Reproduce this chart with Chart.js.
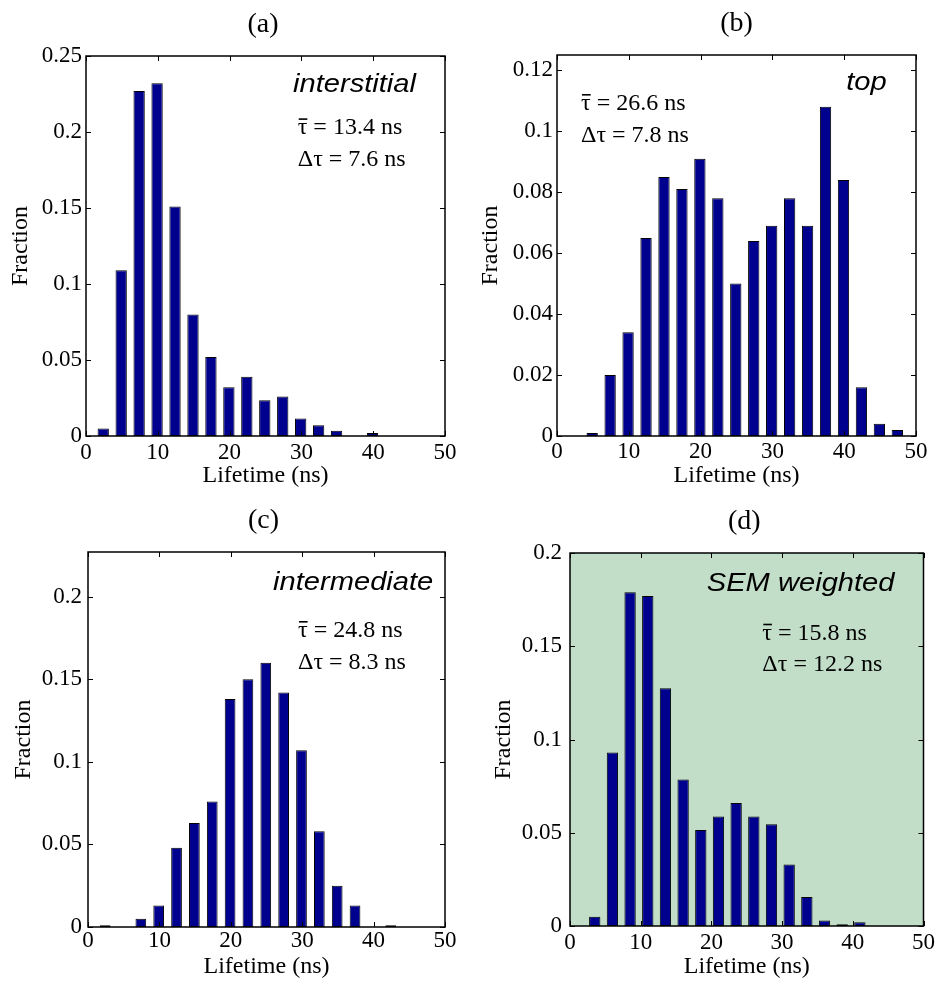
<!DOCTYPE html>
<html>
<head>
<meta charset="utf-8">
<script src="https://cdn.jsdelivr.net/npm/chart.js@4.4.1/dist/chart.umd.min.js"></script>
<style>
html, body { margin: 0; padding: 0; background: #fff; }
#wrap { position: relative; width: 938px; height: 982px; }
canvas { position: absolute; }
</style>
</head>
<body>
<div id="wrap">
  <canvas id="panelA" width="469" height="491" style="left:0;top:0"></canvas>
  <canvas id="panelB" width="469" height="491" style="left:469px;top:0"></canvas>
  <canvas id="panelC" width="469" height="491" style="left:0;top:491px"></canvas>
  <canvas id="panelD" width="469" height="491" style="left:469px;top:491px"></canvas>
</div>
<script>
// ---- data ----
const lifetimeTicks = [0, 10, 20, 30, 40, 50];

// (a) interstitial
const binsA = [2.4, 4.9, 7.4, 9.9, 12.4, 14.9, 17.4, 19.9, 22.4, 24.9, 27.4, 29.9, 32.4, 34.9, 37.4, 39.9];
const fracA = [0.005, 0.109, 0.227, 0.232, 0.151, 0.080, 0.052, 0.032, 0.039, 0.0235, 0.026, 0.0115, 0.007, 0.0035, 0, 0.002];
const yTicksA = [0, 0.05, 0.1, 0.15, 0.2, 0.25];
const statsA = [13.4, 7.6];

// (b) top
const binsB = [4.9, 7.4, 9.9, 12.4, 14.9, 17.4, 19.9, 22.4, 24.9, 27.4, 29.9, 32.4, 34.9, 37.4, 39.9, 42.4, 44.9, 47.4];
const fracB = [0.001, 0.020, 0.034, 0.065, 0.085, 0.081, 0.091, 0.078, 0.050, 0.064, 0.069, 0.078, 0.069, 0.108, 0.084, 0.016, 0.004, 0.002];
const yTicksB = [0, 0.02, 0.04, 0.06, 0.08, 0.1, 0.12];
const statsB = [26.6, 7.8];

// (c) intermediate
const binsC = [2.4, 4.9, 7.4, 9.9, 12.4, 14.9, 17.4, 19.9, 22.4, 24.9, 27.4, 29.9, 32.4, 34.9, 37.4, 39.9, 42.4];
const fracC = [0.001, 0, 0.005, 0.013, 0.048, 0.063, 0.076, 0.138, 0.150, 0.160, 0.142, 0.107, 0.058, 0.025, 0.013, 0, 0.001];
const yTicksC = [0, 0.05, 0.1, 0.15, 0.2];
const statsC = [24.8, 8.3];

// (d) SEM weighted
const binsD = [3.5, 6.0, 8.5, 11.0, 13.5, 16.0, 18.5, 21.0, 23.5, 26.0, 28.5, 31.0, 33.5, 36.0, 38.5, 41.0];
const fracD = [0.005, 0.093, 0.179, 0.177, 0.1275, 0.0785, 0.0515, 0.0587, 0.066, 0.0587, 0.0545, 0.033, 0.0155, 0.003, 0.001, 0.002];
const yTicksD = [0, 0.05, 0.1, 0.15, 0.2];
const statsD = [15.8, 12.2];

const serif = (size) => ({ family: '"Liberation Serif", "Times New Roman", serif', size: size });

// box, inward ticks, panel letter and annotations (matlab look)
function framePlugin(p) {
  return {
    id: 'frame',
    beforeDraw(chart) {
      if (!p.bg) return;
      const { ctx, chartArea: a } = chart;
      ctx.save();
      ctx.fillStyle = p.bg;
      ctx.fillRect(a.left, a.top, a.right - a.left, a.bottom - a.top);
      ctx.restore();
    },
    afterDraw(chart) {
      const { ctx, chartArea: a, scales: { x, y } } = chart;
      ctx.save();
      ctx.strokeStyle = '#000';
      ctx.lineWidth = 1;
      ctx.beginPath();
      x.ticks.forEach(t => {
        const px = Math.round(x.getPixelForValue(t.value)) + 0.5;
        ctx.moveTo(px, a.bottom); ctx.lineTo(px, a.bottom - 5);
        ctx.moveTo(px, a.top); ctx.lineTo(px, a.top + 5);
      });
      y.ticks.forEach(t => {
        const py = Math.round(y.getPixelForValue(t.value)) + 0.5;
        ctx.moveTo(a.left, py); ctx.lineTo(a.left + 5, py);
        ctx.moveTo(a.right, py); ctx.lineTo(a.right - 5, py);
      });
      ctx.stroke();
      ctx.lineWidth = 1.5;
      ctx.strokeRect(a.left, a.top, a.right - a.left, a.bottom - a.top);

      ctx.fillStyle = '#000';
      ctx.textBaseline = 'alphabetic';
      ctx.font = '28px "Liberation Serif"';
      ctx.textAlign = 'center';
      ctx.fillText(p.letter, (a.left + a.right) / 2 + p.letterDx, a.top - 24.5);

      // mean and spread, tau with an overbar
      ctx.textAlign = 'left';
      ctx.font = '24px "Liberation Serif"';
      const sx = a.left + p.statPos[0], sy = a.top + p.statPos[1];
      ctx.fillText('\u03C4 = ' + p.stats[0].toFixed(1) + ' ns', sx, sy);
      const tw = ctx.measureText('\u03C4').width;
      ctx.fillRect(sx + 1, sy - 16, tw - 1, 1.6);
      ctx.fillText('\u0394\u03C4 = ' + p.stats[1].toFixed(1) + ' ns', sx, sy + 31.5);

      ctx.font = 'italic 26px "Liberation Sans"';
      ctx.textAlign = 'right';
      ctx.translate(a.right + p.labelPos[0], a.top + p.labelPos[1]);
      ctx.scale(1.12, 1);
      ctx.fillText(p.label, 0, 0);
      ctx.restore();
    }
  };
}

function makePanel(id, p) {
  new Chart(document.getElementById(id), {
    type: 'bar',
    data: {
      datasets: [{
        data: p.bins.map((b, i) => ({ x: b, y: p.frac[i] })),
        backgroundColor: '#00008f',
        borderColor: '#000',
        borderWidth: 1,
        borderSkipped: false,
        barPercentage: p.barPct,
        categoryPercentage: 1
      }]
    },
    options: {
      responsive: false,
      animation: false,
      layout: { padding: { top: p.padTop, right: p.padRight, bottom: 0, left: 0 } },
      scales: {
        x: {
          type: 'linear', min: 0, max: 50, offset: false,
          grid: { display: false, drawTicks: false },
          border: { display: false },
          afterBuildTicks: s => { s.ticks = lifetimeTicks.map(v => ({ value: v })); },
          afterFit: s => { s.height = p.xH; },
          ticks: { font: serif(23), color: '#000', padding: p.xPad, maxRotation: 0, autoSkip: false },
          title: { display: true, text: 'Lifetime (ns)', font: serif(24), color: '#000', padding: { top: 0, bottom: 1 } }
        },
        y: {
          min: 0, max: p.yMax,
          grid: { display: false, drawTicks: false },
          border: { display: false },
          afterBuildTicks: s => { s.ticks = p.yTicks.map(v => ({ value: v })); },
          afterFit: s => { s.width = p.yW; },
          ticks: { font: serif(23), color: '#000', padding: p.yPad, callback: v => String(+v.toFixed(3)) },
          title: { display: true, text: 'Fraction', font: serif(24), color: '#000', padding: { top: p.yTitlePad, bottom: 0 } }
        }
      },
      plugins: { legend: { display: false }, tooltip: { enabled: false } }
    },
    plugins: [framePlugin(p)]
  });
}

makePanel('panelA', {
  bins: binsA, frac: fracA, yTicks: yTicksA, stats: statsA, yMax: 0.25,
  letter: '(a)', letterDx: -2.5, label: 'interstitial', labelPos: [-29, 35.7], statPos: [211.7, 78.3],
  padTop: 56, padRight: 24, yW: 86, xH: 55, xPad: 3, yPad: 4, yTitlePad: 6, barPct: 0.63
});
makePanel('panelB', {
  bins: binsB, frac: fracB, yTicks: yTicksB, stats: statsB, yMax: 0.125,
  letter: '(b)', letterDx: 0, label: 'top', labelPos: [-29.3, 35], statPos: [24, 55],
  padTop: 55, padRight: 22, yW: 88, xH: 55, xPad: 2, yPad: 4, yTitlePad: 7.6, barPct: 0.63
});
makePanel('panelC', {
  bins: binsC, frac: fracC, yTicks: yTicksC, stats: statsC, yMax: 0.227,
  letter: '(c)', letterDx: -3, label: 'intermediate', labelPos: [-11.7, 38.3], statPos: [210, 85],
  padTop: 61, padRight: 24, yW: 88, xH: 55, xPad: 0, yPad: 6, yTitlePad: 9, barPct: 0.6
});
makePanel('panelD', {
  bins: binsD, frac: fracD, yTicks: yTicksD, stats: statsD, yMax: 0.2, bg: '#c2dec8',
  letter: '(d)', letterDx: -2.5, label: 'SEM weighted', labelPos: [-29, 38.4], statPos: [192.3, 86.7],
  padTop: 62, padRight: 13, yW: 101, xH: 56, xPad: 3, yPad: 8, yTitlePad: 20, barPct: 0.64
});
</script>
</body>
</html>
